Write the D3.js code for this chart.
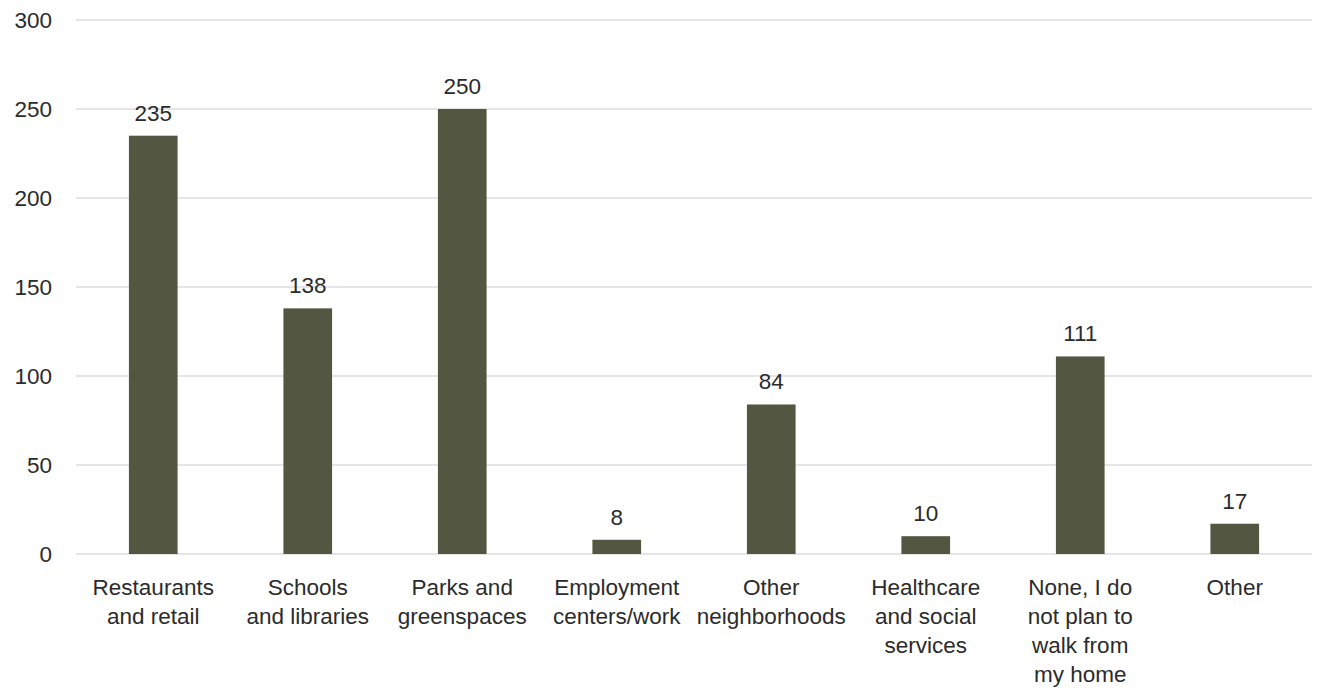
<!DOCTYPE html>
<html>
<head>
<meta charset="utf-8">
<script src="https://cdn.jsdelivr.net/npm/d3@7"></script>
<style>
  html, body { margin: 0; padding: 0; background: #ffffff; }
  svg { display: block; }
  text { font-family: "Liberation Sans", Arial, sans-serif; fill: #2b2b2b; }
</style>
</head>
<body>
<svg id="chart" width="1319" height="688"></svg>
<script>
// Destinations people plan to walk to from home
const categories = [
  ["Restaurants", "and retail"],
  ["Schools", "and libraries"],
  ["Parks and", "greenspaces"],
  ["Employment", "centers/work"],
  ["Other", "neighborhoods"],
  ["Healthcare", "and social", "services"],
  ["None, I do", "not plan to", "walk from", "my home"],
  ["Other"]
];
const values = [235, 138, 250, 8, 84, 10, 111, 17];
const yTicks = [0, 50, 100, 150, 200, 250, 300];

const FONT_SIZE = 22.5;
const svg = d3.select("#chart");
const margin = { left: 76, right: 7, top: 20, bottom: 134 };
const W = 1319, H = 688;

const keys = categories.map((c, i) => i);
const x = d3.scaleBand()
  .domain(keys)
  .range([margin.left, W - margin.right])
  .paddingInner(0.685)
  .paddingOuter(0.3425);

const y = d3.scaleLinear()
  .domain([0, 300])
  .range([H - margin.bottom, margin.top]);

// horizontal gridlines
svg.append("g")
  .selectAll("line")
  .data(yTicks)
  .join("line")
  .attr("x1", margin.left)
  .attr("x2", W - margin.right)
  .attr("y1", d => y(d))
  .attr("y2", d => y(d))
  .attr("stroke", "#dcdcdc")
  .attr("stroke-width", 1.5);

// y axis labels
const yAxis = d3.axisLeft(y).tickValues(yTicks).tickSize(0).tickPadding(0);
const gy = svg.append("g")
  .attr("transform", `translate(52,0)`)
  .call(yAxis);
gy.select(".domain").remove();
gy.selectAll("text")
  .attr("font-family", "Liberation Sans, Arial, sans-serif")
  .attr("font-size", FONT_SIZE)
  .attr("fill", "#2b2b2b");

// bars
svg.append("g")
  .selectAll("rect")
  .data(values)
  .join("rect")
  .attr("x", (d, i) => x(i))
  .attr("width", x.bandwidth())
  .attr("y", d => y(d))
  .attr("height", d => y(0) - y(d))
  .attr("fill", "#535640");

// value labels
svg.append("g")
  .selectAll("text")
  .data(values)
  .join("text")
  .attr("x", (d, i) => x(i) + x.bandwidth() / 2)
  .attr("y", d => y(d) - 15)
  .attr("text-anchor", "middle")
  .attr("font-size", FONT_SIZE)
  .text(d => d);

// category labels (multi-line)
const xl = svg.append("g")
  .selectAll("text")
  .data(categories)
  .join("text")
  .attr("x", (d, i) => x(i) + x.bandwidth() / 2)
  .attr("y", y(0) + 41)
  .attr("text-anchor", "middle")
  .attr("font-size", FONT_SIZE);
xl.selectAll("tspan")
  .data(d => d)
  .join("tspan")
  .attr("x", function () { return d3.select(this.parentNode).attr("x"); })
  .attr("dy", (d, j) => j === 0 ? 0 : 29)
  .text(d => d);
</script>
</body>
</html>
